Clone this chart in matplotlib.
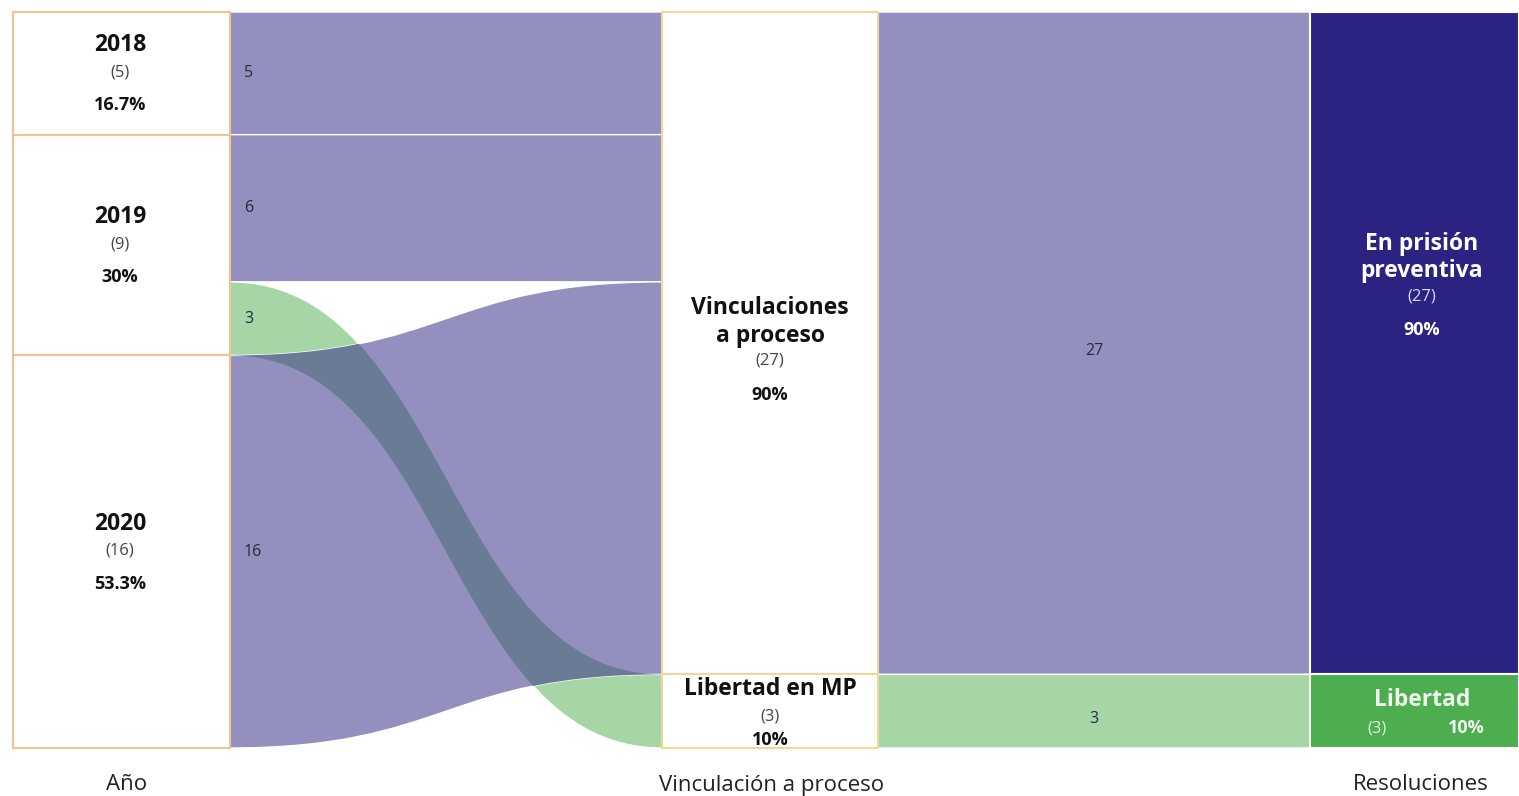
import matplotlib
matplotlib.use("Agg")
import matplotlib.pyplot as plt
from matplotlib.path import Path
from matplotlib.patches import PathPatch, Rectangle

# ---------------- data ----------------
years = ["2018", "2019", "2020"]
year_counts = [5, 9, 16]
year_pcts = ["16.7%", "30%", "53.3%"]

mid_labels = ["Vinculaciones\na proceso", "Libertad en MP"]
mid_counts = [27, 3]
mid_pcts = ["90%", "10%"]

right_labels = ["En prisión\npreventiva", "Libertad"]
right_counts = [27, 3]
right_pcts = ["90%", "10%"]

# flows year -> vinculación (source index, target index, value)
flow1_src = [0, 1, 1, 2]
flow1_tgt = [0, 0, 1, 0]
flow1_val = [5, 6, 3, 16]
# flows vinculación -> resolución
flow2_src = [0, 1]
flow2_tgt = [0, 1]
flow2_val = [27, 3]

stage_labels = ["Año", "Vinculación a proceso", "Resoluciones"]

# ---------------- style ----------------
PURPLE = "#9390c0"
GREEN = "#a6d6a6"
OVERLAP = "#6a7b95"
NAVY = "#2b2381"
NGREEN = "#4cae4f"
BORDER = "#f2c48c"
BORDER_MID = "#f5d59c"
FONT = "Open Sans"

W, H = 1519, 796
fig = plt.figure(figsize=(W / 100, H / 100), dpi=100)
ax = fig.add_axes([0, 0, 1, 1])
ax.set_xlim(0, W)
ax.set_ylim(H, 0)
ax.axis("off")

Y0, Y1 = 12, 748
unit = (Y1 - Y0) / sum(year_counts)

X_L = (13, 230)
X_M = (662, 878)
X_R = (1310, 1519)


def stack(counts):
    pos, y = [], Y0
    for c in counts:
        pos.append((y, y + c * unit))
        y += c * unit
    return pos


left_pos = stack(year_counts)
mid_pos = stack(mid_counts)
right_pos = stack(right_counts)


def ribbon(x0, a0, b0, x1, a1, b1):
    xm = (x0 + x1) / 2
    verts = [(x0, a0), (xm, a0), (xm, a1), (x1, a1),
             (x1, b1), (xm, b1), (xm, b0), (x0, b0), (x0, a0)]
    codes = [Path.MOVETO, Path.CURVE4, Path.CURVE4, Path.CURVE4,
             Path.LINETO, Path.CURVE4, Path.CURVE4, Path.CURVE4, Path.CLOSEPOLY]
    return Path(verts, codes)


# ---- flows stage 1 ----
src_off = [p[0] for p in left_pos]
tgt_off = [p[0] for p in mid_pos]
paths1 = []
for s, t, v in zip(flow1_src, flow1_tgt, flow1_val):
    h = v * unit
    a0 = src_off[s]; src_off[s] += h
    a1 = tgt_off[t]; tgt_off[t] += h
    paths1.append((ribbon(X_L[1], a0, a0 + h, X_M[0], a1, a1 + h), t, s, a0, h))

patches1 = []
for p, t, s, a0, h in paths1:
    col = PURPLE if t == 0 else GREEN
    pp = PathPatch(p, fc=col, ec="white", lw=1.0, zorder=1)
    ax.add_patch(pp)
    patches1.append(pp)

# overlap of green ribbon with crossing purple ribbons -> darker blend
for i, (p, t, s, a0, h) in enumerate(paths1):
    if t != 0:
        for j, (q, t2, s2, b0, h2) in enumerate(paths1):
            if t2 == 0 and s2 != s:
                ov = PathPatch(p, fc=OVERLAP, ec="none", zorder=1.5)
                ax.add_patch(ov)
                ov.set_clip_path(patches1[j])

# flow labels stage 1
for (p, t, s, a0, h), v in zip(paths1, flow1_val):
    ax.text(X_L[1] + 14, a0 + h / 2, str(v), ha="left", va="center",
            fontsize=11.5, color="#2a2a3a", family=FONT, zorder=5)

# ---- flows stage 2 ----
src_off = [p[0] for p in mid_pos]
tgt_off = [p[0] for p in right_pos]
for s, t, v in zip(flow2_src, flow2_tgt, flow2_val):
    h = v * unit
    a0 = src_off[s]; src_off[s] += h
    a1 = tgt_off[t]; tgt_off[t] += h
    col = PURPLE if t == 0 else GREEN
    ax.add_patch(PathPatch(ribbon(X_M[1], a0, a0 + h, X_R[0], a1, a1 + h),
                           fc=col, ec="white", lw=1.0, zorder=1))
    ax.text((X_M[1] + X_R[0]) / 2, (a0 + a1) / 2 + h / 2 + 8, str(v),
            ha="center", va="center", fontsize=11.5, color="#2a2a3a",
            family=FONT, zorder=5)

# ---- nodes ----
for (a, b) in left_pos:
    ax.add_patch(Rectangle((X_L[0], a), X_L[1] - X_L[0], b - a, fc="white",
                           ec=BORDER, lw=1.5, zorder=3))
for (a, b) in mid_pos:
    ax.add_patch(Rectangle((X_M[0], a), X_M[1] - X_M[0], b - a, fc="white",
                           ec=BORDER_MID, lw=1.5, zorder=3))
for (a, b), col in zip(right_pos, [NAVY, NGREEN]):
    ax.add_patch(Rectangle((X_R[0], a), X_R[1] - X_R[0], b - a, fc=col,
                           ec="white", lw=1.5, zorder=3))

TITLE_FS = 16.5
COUNT_FS = 12
PCT_FS = 13

cxL = 120
for (a, b), name, c, pct in zip(left_pos, years, year_counts, year_pcts):
    cy = (a + b) / 2
    ax.text(cxL, cy - 28, name, ha="center", va="center", fontsize=TITLE_FS,
            fontweight="bold", color="#111111", family=FONT, zorder=6)
    ax.text(cxL, cy - 1, f"({c})", ha="center", va="center", fontsize=COUNT_FS,
            color="#444444", family=FONT, zorder=6)
    ax.text(cxL, cy + 32, pct, ha="center", va="center", fontsize=PCT_FS,
            fontweight="bold", color="#111111", family=FONT, zorder=6)

cxM = (X_M[0] + X_M[1]) / 2
mid_offsets = [(-21, 17, 52), (-22, 5, 29)]
for (a, b), name, c, pct, off in zip(mid_pos, mid_labels, mid_counts,
                                      mid_pcts, mid_offsets):
    cy = (a + b) / 2
    ax.text(cxM, cy + off[0], name, ha="center", va="center", fontsize=TITLE_FS,
            fontweight="bold", color="#111111", family=FONT, zorder=6,
            linespacing=1.2)
    ax.text(cxM, cy + off[1], f"({c})", ha="center", va="center",
            fontsize=COUNT_FS, color="#444444", family=FONT, zorder=6)
    ax.text(cxM, cy + off[2], pct, ha="center", va="center", fontsize=PCT_FS,
            fontweight="bold", color="#111111", family=FONT, zorder=6)

cxR = 1422
# En prisión preventiva
a, b = right_pos[0]
cy = (a + b) / 2
ax.text(cxR, cy - 86, right_labels[0], ha="center", va="center",
        fontsize=TITLE_FS, fontweight="bold", color="white", family=FONT,
        zorder=6, linespacing=1.18)
ax.text(cxR, cy - 47, f"({right_counts[0]})", ha="center", va="center",
        fontsize=COUNT_FS, color="#d8d8ee", family=FONT, zorder=6)
ax.text(cxR, cy - 13, right_pcts[0], ha="center", va="center", fontsize=PCT_FS,
        fontweight="bold", color="white", family=FONT, zorder=6)
# Libertad
a, b = right_pos[1]
cy = (a + b) / 2
ax.text(cxR, cy - 11, right_labels[1], ha="center", va="center",
        fontsize=TITLE_FS, fontweight="bold", color="#eef8ee", family=FONT,
        zorder=6)
ax.text(cxR - 45, cy + 17, f"({right_counts[1]})", ha="center", va="center",
        fontsize=COUNT_FS, color="#e4f4e4", family=FONT, zorder=6)
ax.text(cxR + 44, cy + 17, right_pcts[1], ha="center", va="center",
        fontsize=PCT_FS, fontweight="bold", color="#eef8ee", family=FONT,
        zorder=6)

# ---- stage labels ----
for x, lab in zip([127, 772, 1421], stage_labels):
    ax.text(x, 785, lab, ha="center", va="center", fontsize=16,
            fontweight="medium", color="#222222", family=FONT, zorder=6)

fig.savefig("out.png", dpi=100, facecolor="white")
